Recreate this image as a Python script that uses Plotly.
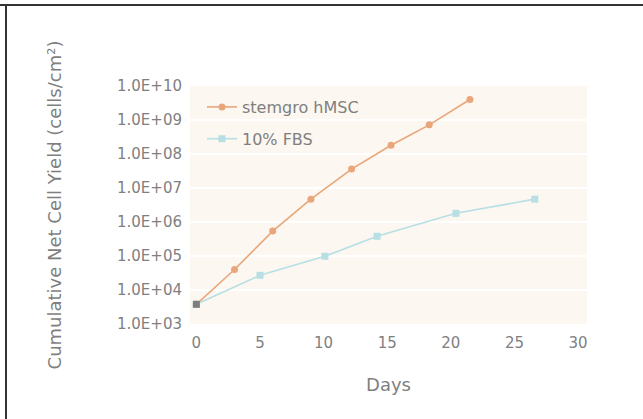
import plotly.graph_objects as go

stemgro_days = [0, 3, 6, 9, 12.2, 15.3, 18.3, 21.5]
stemgro_yield = [3.8e3, 4.0e4, 5.4e5, 4.7e6, 3.6e7, 1.8e8, 7.2e8, 4.0e9]
fbs_days = [0, 5, 10.1, 14.2, 20.4, 26.6]
fbs_yield = [3.8e3, 2.7e4, 9.8e4, 3.8e5, 1.8e6, 4.7e6]
start_day = [0]
start_yield = [3.8e3]
y_tickvals = [1e3, 1e4, 1e5, 1e6, 1e7, 1e8, 1e9, 1e10]
y_ticktext = ["1.0E+03", "1.0E+04", "1.0E+05", "1.0E+06", "1.0E+07", "1.0E+08", "1.0E+09", "1.0E+10"]
x_tickvals = [0, 5, 10, 15, 20, 25, 30]

ORANGE = "#E9A67A"
BLUE = "#B7DFE4"
GRAY = "#7f7f7f"
FONT = "DejaVu Sans"

L, R, T, B = 190, 56, 86, 95
PW, PH = 643 - L - R, 419 - T - B

fig = go.Figure()
fig.add_trace(go.Scatter(
    x=stemgro_days, y=stemgro_yield, mode="lines+markers", name="stemgro hMSC",
    line=dict(color=ORANGE, width=1.6), marker=dict(color=ORANGE, size=7, symbol="circle"),
    legendgroup="a"))
fig.add_trace(go.Scatter(
    x=fbs_days, y=fbs_yield, mode="lines+markers", name="10% FBS",
    line=dict(color=BLUE, width=1.6), marker=dict(color=BLUE, size=7, symbol="square"),
    legendgroup="b"))
fig.add_trace(go.Scatter(
    x=start_day, y=start_yield, mode="markers", showlegend=False,
    marker=dict(color="#7d7d7d", size=7, symbol="square")))

fig.update_layout(
    width=643, height=419,
    margin=dict(l=L, r=R, t=T, b=B),
    paper_bgcolor="white", plot_bgcolor="#FCF7F0",
    font=dict(family=FONT, color=GRAY, size=15),
    legend=dict(x=12 / PW, y=1 - 4 / PH, xanchor="left", yanchor="top",
                bgcolor="rgba(0,0,0,0)", font=dict(size=16, color=GRAY),
                tracegroupgap=8, itemwidth=30),
    xaxis=dict(range=[-0.5, 30.7], tickvals=x_tickvals, showgrid=False, zeroline=False,
               showline=False, ticks="", ticklabelstandoff=8,
               title=dict(text="Days", font=dict(size=18), standoff=27),
               tickfont=dict(size=15)),
    yaxis=dict(type="log", range=[3, 10], tickvals=y_tickvals, ticktext=y_ticktext,
               showgrid=True, gridcolor="white", gridwidth=1.5, zeroline=False, showline=False,
               ticks="", ticklabelstandoff=7,
               title=dict(text="Cumulative Net Cell Yield (cells/cm²)", font=dict(size=18), standoff=50),
               tickfont=dict(size=15)),
    shapes=[
        dict(type="line", xref="paper", yref="paper", x0=-L / PW, x1=1 + R / PW,
             y0=1 + (T - 5) / PH, y1=1 + (T - 5) / PH, line=dict(color="#333333", width=2)),
        dict(type="line", xref="paper", yref="paper", x0=-(L - 6) / PW, x1=-(L - 6) / PW,
             y0=1 + (T - 4) / PH, y1=-B / PH, line=dict(color="#333333", width=2)),
    ],
)

fig.write_html("out.html", config={"displayModeBar": False},
               post_script="document.body.style.margin='0';")
